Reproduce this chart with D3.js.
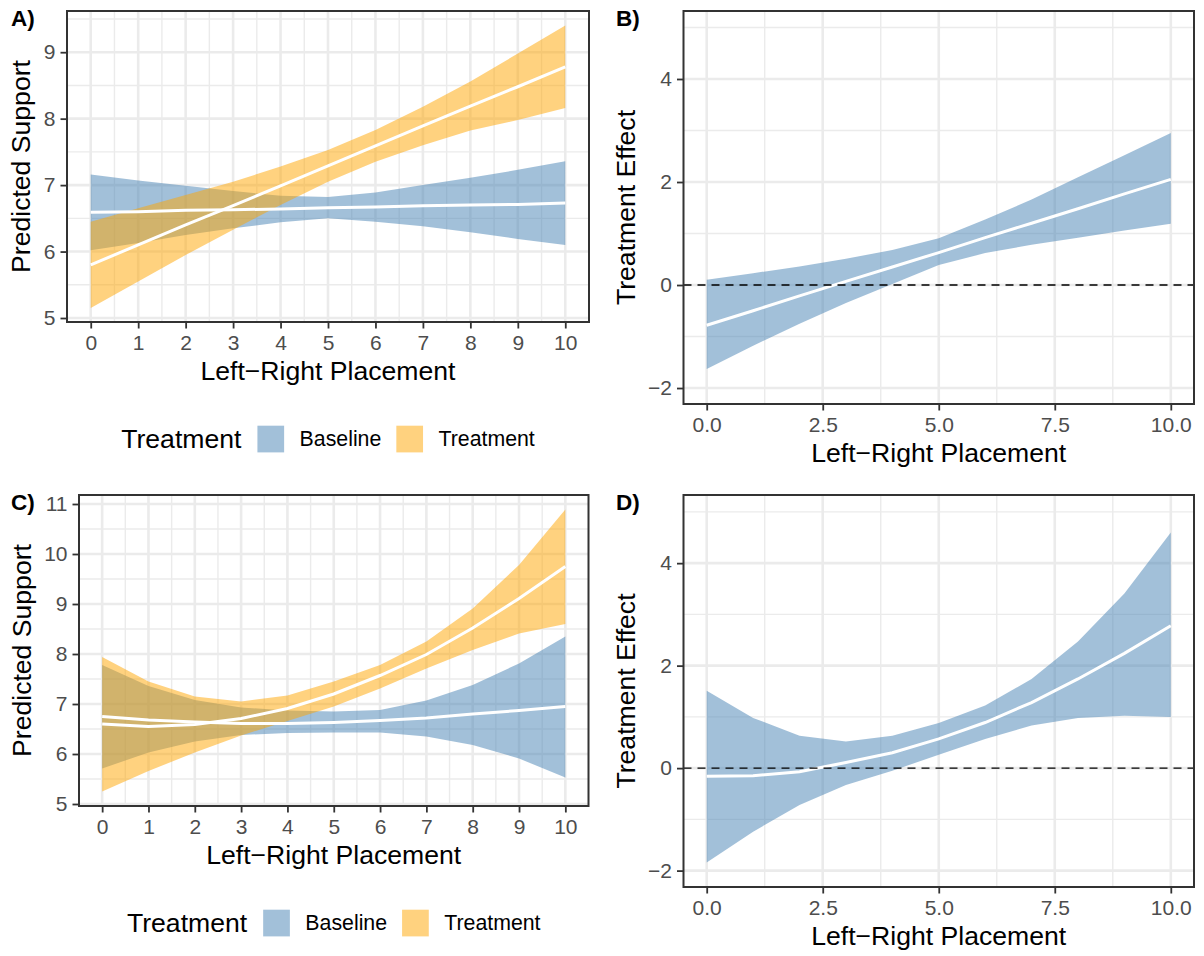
<!DOCTYPE html>
<html>
<head>
<meta charset="utf-8">
<script src="https://cdnjs.cloudflare.com/ajax/libs/d3/7.8.5/d3.min.js"></script>
<style>
body { margin: 0; background: #fff; }
svg { font-family: "Liberation Sans", Arial, Helvetica, sans-serif; }
</style>
</head>
<body>
<svg width="1204" height="956"></svg>
<script>
// left-right placement, 0..10
var placement = [0, 1, 2, 3, 4, 5, 6, 7, 8, 9, 10];

// panel A: linear model
var aBaseMean  = [6.59, 6.60, 6.62, 6.63, 6.64, 6.66, 6.67, 6.69, 6.70, 6.71, 6.73];
var aBaseLo    = [6.02, 6.13, 6.25, 6.35, 6.44, 6.50, 6.45, 6.38, 6.29, 6.19, 6.10];
var aBaseHi    = [7.16, 7.07, 6.99, 6.91, 6.84, 6.82, 6.89, 7.00, 7.11, 7.23, 7.36];
var aTreatMean = [5.80, 6.10, 6.40, 6.69, 6.99, 7.29, 7.59, 7.89, 8.19, 8.48, 8.78];
var aTreatLo   = [5.15, 5.55, 5.95, 6.33, 6.70, 7.05, 7.35, 7.60, 7.82, 7.98, 8.16];
var aTreatHi   = [6.45, 6.65, 6.85, 7.05, 7.28, 7.53, 7.83, 8.18, 8.56, 8.98, 9.40];

// panel B: treatment effect, linear model
var bEffMean = [-0.78, -0.50, -0.21, 0.07, 0.35, 0.63, 0.92, 1.20, 1.48, 1.77, 2.05];
var bEffLo   = [-1.63, -1.18, -0.75, -0.35, 0.02, 0.39, 0.62, 0.78, 0.92, 1.06, 1.19];
var bEffHi   = [0.10, 0.23, 0.36, 0.51, 0.68, 0.91, 1.27, 1.66, 2.09, 2.52, 2.95];

// panel C: flexible model
var cBaseMean  = [6.75, 6.68, 6.64, 6.61, 6.61, 6.63, 6.67, 6.72, 6.80, 6.87, 6.95];
var cBaseLo    = [5.71, 6.03, 6.25, 6.38, 6.42, 6.43, 6.43, 6.35, 6.18, 5.91, 5.53];
var cBaseHi    = [7.78, 7.36, 7.08, 6.93, 6.87, 6.85, 6.88, 7.07, 7.38, 7.81, 8.35];
var cTreatMean = [6.60, 6.55, 6.59, 6.71, 6.91, 7.20, 7.57, 7.99, 8.52, 9.11, 9.75];
var cTreatLo   = [5.25, 5.66, 6.03, 6.37, 6.66, 6.95, 7.31, 7.71, 8.08, 8.41, 8.60];
var cTreatHi   = [7.94, 7.45, 7.15, 7.05, 7.17, 7.45, 7.78, 8.25, 8.91, 9.78, 10.89];

// panel D: treatment effect, flexible model
var dEffMean = [-0.16, -0.15, -0.07, 0.11, 0.30, 0.57, 0.89, 1.28, 1.74, 2.24, 2.78];
var dEffLo   = [-1.84, -1.24, -0.72, -0.33, -0.05, 0.26, 0.57, 0.83, 0.98, 1.02, 1.00];
var dEffHi   = [1.51, 0.98, 0.63, 0.52, 0.63, 0.88, 1.22, 1.74, 2.47, 3.41, 4.60];

// ticks
var xTicksInt   = [0, 1, 2, 3, 4, 5, 6, 7, 8, 9, 10];
var xMinorInt   = [0.5, 1.5, 2.5, 3.5, 4.5, 5.5, 6.5, 7.5, 8.5, 9.5];
var xTicksEff   = [0, 2.5, 5, 7.5, 10];
var xMinorEff   = [1.25, 3.75, 6.25, 8.75];
var yTicksA     = [5, 6, 7, 8, 9];
var yMinorA     = [5.5, 6.5, 7.5, 8.5, 9.5];
var yTicksC     = [5, 6, 7, 8, 9, 10, 11];
var yMinorC     = [5.5, 6.5, 7.5, 8.5, 9.5, 10.5];
var yTicksEff   = [-2, 0, 2, 4];
var yMinorEff   = [-1, 1, 3, 5];

var legendKeys   = ["Baseline", "Treatment"];
var legendFills  = ["#4682B4", "#FFA500"];

var svg = d3.select("svg");

function rows(mean, lo, hi) {
    return placement.map(function(v, i) {
        return {x: v, mean: mean[i], lo: lo[i], hi: hi[i]};
    });
}

function drawPanel(p) {
    var x = d3.scaleLinear().domain([-0.5, 10.5]).range([p.left, p.right]);
    var y = d3.scaleLinear().domain(p.yDomain).range([p.bottom, p.top]);
    var g = svg.append("g");

    // grid
    function vgrid(vals, w) {
        g.append("g").selectAll("line").data(vals).enter().append("line")
            .attr("x1", function(d) { return x(d); })
            .attr("x2", function(d) { return x(d); })
            .attr("y1", p.top).attr("y2", p.bottom)
            .attr("stroke", "#EBEBEB").attr("stroke-width", w);
    }
    function hgrid(vals, w) {
        g.append("g").selectAll("line").data(vals).enter().append("line")
            .attr("y1", function(d) { return y(d); })
            .attr("y2", function(d) { return y(d); })
            .attr("x1", p.left).attr("x2", p.right)
            .attr("stroke", "#EBEBEB").attr("stroke-width", w);
    }
    vgrid(p.xMinor, 1.4);
    hgrid(p.yMinor, 1.4);
    vgrid(p.xTicks, 2.6);
    hgrid(p.yTicks, 2.6);

    var area = d3.area()
        .x(function(d) { return x(d.x); })
        .y0(function(d) { return y(d.lo); })
        .y1(function(d) { return y(d.hi); });
    var line = d3.line()
        .x(function(d) { return x(d.x); })
        .y(function(d) { return y(d.mean); });

    p.series.forEach(function(s) {
        g.append("path").datum(s.data)
            .attr("d", area)
            .attr("fill", s.fill)
            .attr("fill-opacity", 0.5);
    });
    p.series.forEach(function(s) {
        g.append("path").datum(s.data)
            .attr("d", line)
            .attr("fill", "none")
            .attr("stroke", "#fff")
            .attr("stroke-width", 3);
    });

    if (p.zeroLine) {
        g.append("line")
            .attr("x1", p.left).attr("x2", p.right)
            .attr("y1", y(0)).attr("y2", y(0))
            .attr("stroke", "#000").attr("stroke-width", 1.4)
            .attr("stroke-dasharray", "8,6");
    }

    // border
    g.append("rect")
        .attr("x", p.left).attr("y", p.top)
        .attr("width", p.right - p.left).attr("height", p.bottom - p.top)
        .attr("fill", "none").attr("stroke", "#333333").attr("stroke-width", 2);

    // axes
    var yAxis = g.append("g")
        .attr("transform", "translate(" + p.left + ",0)")
        .call(d3.axisLeft(y).tickValues(p.yTicks).tickSize(6.5).tickPadding(5).tickFormat(d3.format("d")));
    var xAxis = g.append("g")
        .attr("transform", "translate(0," + p.bottom + ")")
        .call(d3.axisBottom(x).tickValues(p.xTicks).tickSize(6.5).tickPadding(6.5).tickFormat(p.xFormat));
    [xAxis, yAxis].forEach(function(ax) {
        ax.select(".domain").remove();
        ax.selectAll(".tick line").attr("stroke", "#333333").attr("stroke-width", 1.8);
        ax.selectAll(".tick text")
            .attr("fill", "#4D4D4D")
            .style("font-size", "21px")
            .style("font-family", "'Liberation Sans', Arial, sans-serif");
    });

    var cx = (p.left + p.right) / 2;
    g.append("text")
        .attr("x", cx).attr("y", p.bottom + 58)
        .attr("text-anchor", "middle")
        .style("font-size", "26.6px")
        .text("Left\u2212Right Placement");

    g.append("text")
        .attr("transform", "translate(" + p.yTitleX + "," + ((p.top + p.bottom) / 2) + ") rotate(-90)")
        .attr("text-anchor", "middle")
        .style("font-size", "26.6px")
        .text(p.yTitle);

    g.append("text")
        .attr("x", p.labelX).attr("y", p.top + 14.5)
        .style("font-size", "22.5px")
        .style("font-weight", "bold")
        .text(p.label);

    if (p.legendY) drawLegend(cx, p.legendY);
}

function drawLegend(cx, cy) {
    var lg = svg.append("g");
    var pos = 0;
    var title = lg.append("text")
        .attr("x", 0).attr("y", 0).attr("dy", "0.35em")
        .style("font-size", "26.6px")
        .text("Treatment");
    pos += title.node().getComputedTextLength() + 16;
    legendKeys.forEach(function(k, i) {
        lg.append("rect")
            .attr("x", pos).attr("y", -13.3)
            .attr("width", 26.7).attr("height", 26.7)
            .attr("fill", legendFills[i]).attr("fill-opacity", 0.5);
        pos += 26.7 + 15.5;
        var t = lg.append("text")
            .attr("x", pos).attr("y", 0).attr("dy", "0.35em")
            .style("font-size", "21.3px")
            .text(k);
        pos += t.node().getComputedTextLength() + 15;
    });
    pos -= 15;
    lg.attr("transform", "translate(" + (cx - pos / 2) + "," + cy + ")");
}

drawPanel({
    left: 67, right: 589, top: 11, bottom: 322,
    yDomain: [4.94, 9.62], yTicks: yTicksA, yMinor: yMinorA,
    xTicks: xTicksInt, xMinor: xMinorInt, xFormat: d3.format("d"),
    yTitle: "Predicted Support", yTitleX: 30, label: "A)", labelX: 11,
    legendY: 439,
    series: [
        {data: rows(aBaseMean, aBaseLo, aBaseHi), fill: legendFills[0]},
        {data: rows(aTreatMean, aTreatLo, aTreatHi), fill: legendFills[1]}
    ]
});

drawPanel({
    left: 683.5, right: 1194, top: 11, bottom: 404,
    yDomain: [-2.31, 5.32], yTicks: yTicksEff, yMinor: yMinorEff,
    xTicks: xTicksEff, xMinor: xMinorEff, xFormat: d3.format(".1f"),
    yTitle: "Treatment Effect", yTitleX: 635, label: "B)", labelX: 616,
    zeroLine: true,
    series: [
        {data: rows(bEffMean, bEffLo, bEffHi), fill: legendFills[0]}
    ]
});

drawPanel({
    left: 79, right: 588.5, top: 495, bottom: 806,
    yDomain: [4.96, 11.18], yTicks: yTicksC, yMinor: yMinorC,
    xTicks: xTicksInt, xMinor: xMinorInt, xFormat: d3.format("d"),
    yTitle: "Predicted Support", yTitleX: 31, label: "C)", labelX: 11,
    legendY: 923,
    series: [
        {data: rows(cBaseMean, cBaseLo, cBaseHi), fill: legendFills[0]},
        {data: rows(cTreatMean, cTreatLo, cTreatHi), fill: legendFills[1]}
    ]
});

drawPanel({
    left: 683.5, right: 1194, top: 495, bottom: 887,
    yDomain: [-2.32, 5.33], yTicks: yTicksEff, yMinor: yMinorEff,
    xTicks: xTicksEff, xMinor: xMinorEff, xFormat: d3.format(".1f"),
    yTitle: "Treatment Effect", yTitleX: 635, label: "D)", labelX: 616,
    zeroLine: true,
    series: [
        {data: rows(dEffMean, dEffLo, dEffHi), fill: legendFills[0]}
    ]
});
</script>
</body>
</html>
